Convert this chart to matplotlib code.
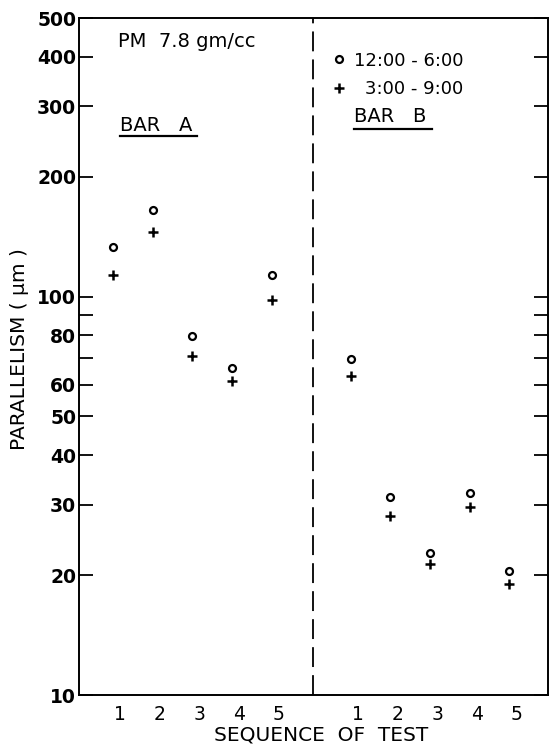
import numpy as np
import matplotlib.pyplot as plt
from matplotlib.lines import Line2D

# Sequence of test, bar A then bar B
seq_labels = ["1", "2", "3", "4", "5", "1", "2", "3", "4", "5"]
bar_a_pos = [1, 2, 3, 4, 5]
bar_b_pos = [7, 8, 9, 10, 11]

# Parallelism (um)
a_1200_600 = [133, 165, 79.5, 66, 113]
a_300_900 = [113, 145, 71, 61.5, 98]
b_1200_600 = [69.5, 31.4, 22.7, 32.1, 20.5]
b_300_900 = [63, 28.1, 21.3, 29.6, 19.0]

ytick_vals = [10, 20, 30, 40, 50, 60, 70, 80, 90, 100, 200, 300, 400, 500]
ytick_labels = ["10", "20", "30", "40", "50", "60", "", "80", "", "100",
                "200", "300", "400", "500"]

plt.rcParams['font.family'] = ['DejaVu Sans']

fig = plt.figure(figsize=(5.5, 7.47), dpi=100)
ax = fig.add_axes([0.1436, 0.0696, 0.8528, 0.9063])

xs = bar_a_pos + bar_b_pos
ys_o = a_1200_600 + b_1200_600
ys_p = a_300_900 + b_300_900

ax.plot(xs, ys_o, 'o', mfc='white', mec='black', ms=5, mew=1.6, ls='none')
ax.plot(xs, ys_p, '+', color='black', ms=6.5, mew=1.8, ls='none')

ax.set_yscale('log')
ax.set_ylim(10, 500)
ax.set_xlim(0.14, 11.98)

ax.yaxis.set_minor_locator(plt.NullLocator())
ax.set_yticks(ytick_vals)
ax.set_yticklabels(ytick_labels, fontsize=13.5, fontweight='bold')
ax.tick_params(axis='y', which='both', direction='in', length=10, width=1.3,
               right=True, left=True, labelright=False, pad=2)

ax.set_xticks([x + 0.18 for x in xs])
ax.set_xticklabels(seq_labels, fontsize=13.5)
ax.tick_params(axis='x', length=0, pad=7)

for sp in ax.spines.values():
    sp.set_linewidth(1.4)

# divider between bars
ax.axvline(6.05, color='black', lw=1.3, dashes=(11, 4.5))

ax.set_xlabel("SEQUENCE  OF  TEST", fontsize=14.5)
ax.xaxis.set_label_coords(0.516, -0.045)
fig.text(0.036, 0.533, "PARALLELISM ( \u03bcm )", rotation=90, fontsize=14.5,
         ha='center', va='center')

# annotations
ax.text(0.083, 0.965, "PM  7.8 gm/cc", transform=ax.transAxes, fontsize=14,
        ha='left', va='center')
ax.text(0.087, 0.841, "BAR   A", transform=ax.transAxes, fontsize=14,
        ha='left', va='center')
ax.add_line(Line2D([0.087, 0.252], [0.826, 0.826], transform=ax.transAxes,
                   color='black', lw=1.6))
ax.text(0.586, 0.855, "BAR   B", transform=ax.transAxes, fontsize=14,
        ha='left', va='center')
ax.add_line(Line2D([0.586, 0.752], [0.836, 0.836], transform=ax.transAxes,
                   color='black', lw=1.6))

# key
ax.plot([0.554], [0.939], 'o', mfc='white', mec='black', ms=5, mew=1.6,
        transform=ax.transAxes)
ax.plot([0.554], [0.897], '+', color='black', ms=6.5, mew=1.8,
        transform=ax.transAxes)
ax.text(0.82, 0.937, "12:00 - 6:00", transform=ax.transAxes, fontsize=13,
        ha='right', va='center')
ax.text(0.82, 0.895, "3:00 - 9:00", transform=ax.transAxes, fontsize=13,
        ha='right', va='center')

fig.savefig("out.png", dpi=100)
